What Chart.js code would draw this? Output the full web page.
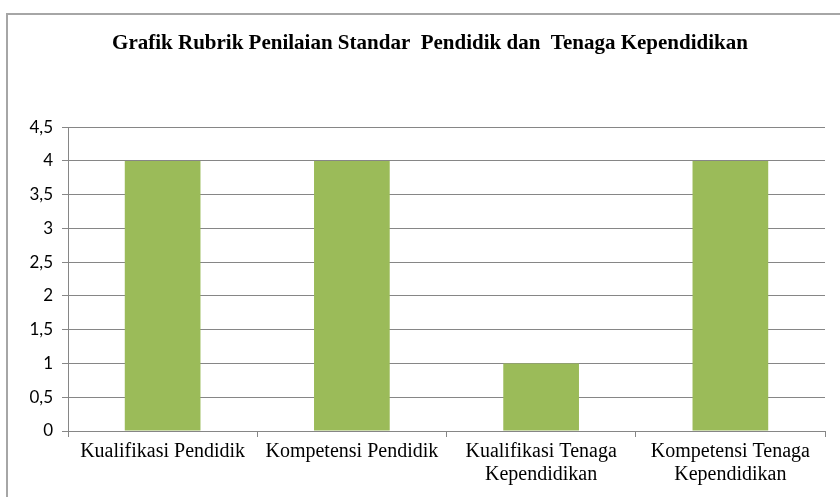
<!DOCTYPE html>
<html>
<head>
<meta charset="utf-8">
<script src="https://cdn.jsdelivr.net/npm/chart.js@4"></script>
<style>
    html, body { margin: 0; padding: 0; background: #fff; overflow: hidden; }
    #wrap { position: relative; width: 840px; height: 497px; }
    #frame { position: absolute; left: 6px; top: 13px; width: 900px; height: 600px; border: 2px solid #a6a6a6; box-sizing: border-box; }
    canvas { position: absolute; left: 0; top: 0; }
</style>
</head>
<body>
<div id="wrap">
    <div id="frame"></div>
    <canvas id="chart" width="840" height="497"></canvas>
</div>
<script>
// === Datos ===
const judul = 'Grafik Rubrik Penilaian Standar  Pendidik dan  Tenaga Kependidikan';
const kategori = [
    'Kualifikasi Pendidik',
    'Kompetensi Pendidik',
    ['Kualifikasi Tenaga', 'Kependidikan'],
    ['Kompetensi Tenaga', 'Kependidikan']
];
const nilai = [4, 4, 1, 4];
const yMin = 0;
const yMax = 4.5;
const yStep = 0.5;

const chart = new Chart(document.getElementById('chart'), {
    type: 'bar',
    data: {
        labels: kategori,
        datasets: [
            { label: 'Nilai', data: nilai, backgroundColor: '#9bbb59', borderWidth: 0, barPercentage: 0.4, categoryPercentage: 1 }
        ]
    },
    options: {
        responsive: false,
        animation: false,
        // padding kanan negatif + sumbu kanan kosong: judul bergeser ke kanan seperti aslinya
        layout: { padding: { left: 0, right: -20, top: 0, bottom: 0 } },
        scales: {
            x: {
                offset: true,
                grid: { offset: true, drawOnChartArea: false, color: '#868686', tickLength: 6, tickColor: '#868686' },
                border: { color: '#868686' },
                ticks: { color: '#000', font: { family: 'Liberation Serif', size: 20, lineHeight: 1.15 }, padding: 3, maxRotation: 0, autoSkip: false },
                afterFit: s => { s.height = 66; }
            },
            y: {
                min: yMin,
                max: yMax,
                grid: { color: '#868686', tickLength: 6, tickColor: '#868686' },
                border: { color: '#868686' },
                ticks: {
                    stepSize: yStep,
                    color: '#000',
                    padding: 9,
                    font: { family: 'Lato', size: 17 },
                    callback: v => String(v).replace('.', ',')
                },
                afterFit: s => { s.width = 68; }
            },
            y2: {
                position: 'right',
                min: yMin,
                max: yMax,
                grid: { display: false },
                border: { display: false },
                ticks: { display: false },
                afterFit: s => { s.width = 35; }
            }
        },
        plugins: {
            legend: { display: false },
            tooltip: { enabled: false },
            title: {
                display: true,
                text: judul,
                color: '#000',
                font: { family: 'Liberation Serif', size: 21, weight: 'bold' },
                padding: { top: 31, bottom: 71 }
            }
        }
    }
});
</script>
</body>
</html>
